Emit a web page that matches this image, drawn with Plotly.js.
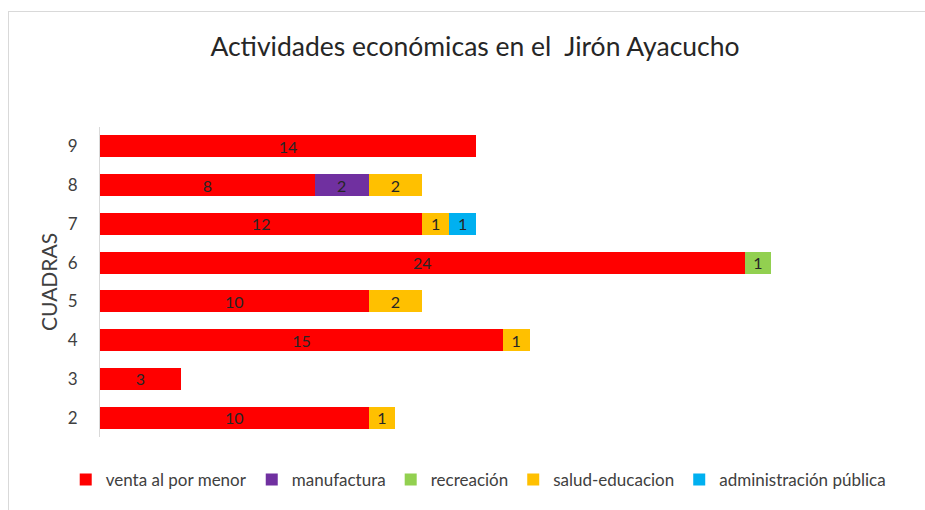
<!DOCTYPE html>
<html>
<head>
<meta charset="utf-8">
<script src="https://cdn.plot.ly/plotly-3.0.1.min.js"></script>
<style>
html,body{margin:0;padding:0;background:#fff;}
#frame{position:absolute;left:8px;top:11px;width:917px;height:499px;border-left:1px solid #d9d9d9;border-top:1px solid #d9d9d9;box-sizing:border-box;}
#chart{position:absolute;left:0;top:0;width:925px;height:510px;}
</style>
</head>
<body>
<div id="frame"></div>
<div id="chart"></div>
<script>
const cuadras = ["2","3","4","5","6","7","8","9"];
const ventaAlPorMenor = [10, 3, 15, 10, 24, 12, 8, 14];
const manufactura = [null, null, null, null, null, null, 2, null];
const recreacion = [null, null, null, null, 1, null, null, null];
const saludEducacion = [1, null, 1, 2, null, 1, 2, null];
const administracionPublica = [null, null, null, null, null, 1, null, null];

const seriesNames = ["venta al por menor","manufactura","recreación","salud-educacion","administración pública"];
const seriesValues = [ventaAlPorMenor, manufactura, recreacion, saludEducacion, administracionPublica];
const seriesColors = ["#FF0000","#7030A0","#92D050","#FFC000","#00B0F0"];

const traces = seriesNames.map((n,i)=>({
  type:'bar', orientation:'h', name:n,
  y:cuadras, x:seriesValues[i],
  marker:{color:seriesColors[i]},
  text:seriesValues[i].map(v=>v==null?'':String(v)),
  textposition:'inside', insidetextanchor:'middle', textangle:0,
  constraintext:'none',
  insidetextfont:{family:'Lato, sans-serif', size:16, color:'#262626'},
  hoverinfo:'x+name'
}));

const layout = {
  width:925, height:510,
  margin:{l:100, r:0, t:127, b:73},
  paper_bgcolor:'rgba(0,0,0,0)', plot_bgcolor:'rgba(0,0,0,0)',
  barmode:'stack', bargap:0.43,
  font:{family:'Lato, sans-serif', color:'#404040'},
  title:{text:'Actividades económicas en el  Jirón Ayacucho', font:{family:'Lato, sans-serif', size:26.5, color:'#262626'},
         xref:'container', x:0.5135, xanchor:'center', yref:'container', y:0.908, yanchor:'middle'},
  xaxis:{visible:false, range:[0,30.72], fixedrange:true},
  yaxis:{type:'category', categoryorder:'array', categoryarray:cuadras, range:[-0.5,7.5],
         showline:true, linecolor:'#d9d9d9', linewidth:1, ticks:'', showgrid:false, zeroline:false,
         ticklabelstandoff:18, tickfont:{family:'Lato, sans-serif', size:17, color:'#404040'}},
  showlegend:true,
  legend:{orientation:'h', xref:'container', x:0.517, xanchor:'center', yref:'container', y:0.059, yanchor:'middle',
          font:{family:'Lato, sans-serif', size:17, color:'#404040'}, traceorder:'normal', itemwidth:30},
  annotations:[{text:'CUADRAS', textangle:-90, xref:'paper', x:0, xshift:-52, xanchor:'center',
                yref:'paper', y:0.5, yanchor:'middle', showarrow:false,
                font:{family:'Lato, sans-serif', size:21, color:'#404040'}}]
};

Plotly.newPlot('chart', traces, layout, {displayModeBar:false, staticPlot:true});
</script>
</body>
</html>
